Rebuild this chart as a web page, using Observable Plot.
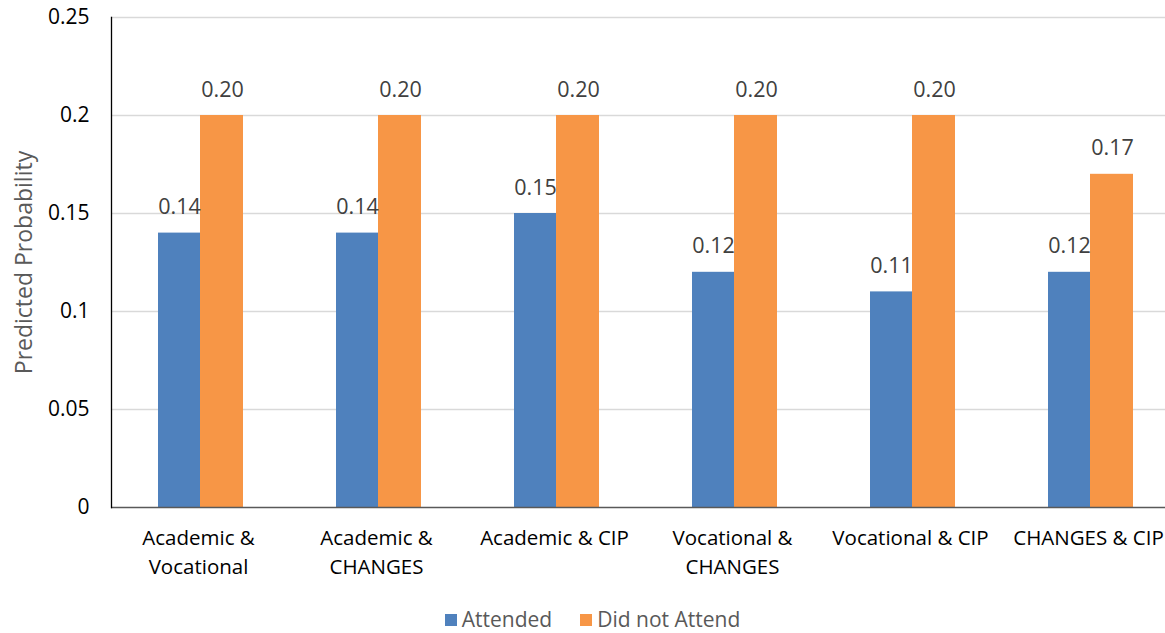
<!DOCTYPE html>
<html>
<head>
<meta charset="utf-8">
<script src="https://cdn.jsdelivr.net/npm/d3@7"></script>
<script src="https://cdn.jsdelivr.net/npm/@observablehq/plot@0.6"></script>
<style>
  html, body { margin: 0; padding: 0; background: #fff; }
  #chart { width: 1165px; height: 633px; overflow: hidden; position: relative; font-family: "Open Sans", Lato, sans-serif; }
  .legend { position: absolute; top: 605px; left: 0; width: 1165px; display: flex; justify-content: center; gap: 28px; font-size: 21px; line-height: 29px; color: #595959; padding-left: 20px; box-sizing: border-box; }
  .legend span.item { display: inline-flex; align-items: center; gap: 5px; }
  .legend span.sw { width: 12px; height: 12px; display: inline-block; }
</style>
</head>
<body>
<div id="chart"></div>
<script>
const categories = ["Academic &\nVocational", "Academic &\nCHANGES", "Academic & CIP", "Vocational &\nCHANGES", "Vocational & CIP", "CHANGES & CIP"];
const attended = [0.14, 0.14, 0.15, 0.12, 0.11, 0.12];
const notAttended = [0.20, 0.20, 0.20, 0.20, 0.20, 0.17];
const seriesNames = ["Attended", "Did not Attend"];
const seriesColors = ["#4F81BD", "#F79646"];
const yTicks = [0, 0.05, 0.1, 0.15, 0.2, 0.25];
const yTitle = "Predicted Probability";

const rows = [];
categories.forEach((c, i) => {
  rows.push({cat: c, series: seriesNames[0], value: attended[i]});
  rows.push({cat: c, series: seriesNames[1], value: notAttended[i]});
});
const A = rows.filter(d => d.series === seriesNames[0]);
const B = rows.filter(d => d.series === seriesNames[1]);

const font = "'Open Sans', Lato, sans-serif";
const plot = Plot.plot({
  width: 1165,
  height: 590,
  marginTop: 17,
  marginBottom: 83,
  marginLeft: 111,
  marginRight: 0,
  style: {fontFamily: font, fontSize: "21px", color: "#000", background: "#fff"},
  x: {domain: categories, range: [111, 1179], padding: 0, axis: null},
  y: {domain: [0, 0.25], ticks: yTicks, tickFormat: d3.format("~g"), label: null},
  color: {domain: seriesNames, range: seriesColors},
  marks: [
    Plot.ruleY(yTicks.slice(1), {stroke: "#d9d9d9", strokeWidth: 1.3}),
    Plot.axisY({ticks: yTicks, tickSize: 0, tickPadding: 22, fontSize: 21, label: null, tickFormat: d3.format("~g")}),
    Plot.barY(A, {x: "cat", y: "value", fill: "series", insetLeft: 47, insetRight: 89}),
    Plot.barY(B, {x: "cat", y: "value", fill: "series", insetLeft: 89, insetRight: 46}),
    Plot.text(A, {x: "cat", y: "value", text: d => d.value.toFixed(2), dx: -21, dy: -19, lineAnchor: "bottom", fill: "#404040", fontSize: 21.5}),
    Plot.text(B, {x: "cat", y: "value", text: d => d.value.toFixed(2), dx: 22, dy: -19, lineAnchor: "bottom", fill: "#404040", fontSize: 21.5}),
    Plot.ruleY([0], {stroke: "#595959", strokeWidth: 1.3}),
    Plot.frame({anchor: "left", stroke: "#000", strokeWidth: 1.3}),
    Plot.text(categories, {x: d => d, y: 0, text: d => d, dy: 16, dx: -2, lineAnchor: "top", lineHeight: 1.45, fill: "#000", fontSize: 20.5}),
    Plot.text([yTitle], {frameAnchor: "left", text: d => d, rotate: -90, textAnchor: "middle", dx: -87, fill: "#595959", fontSize: 23})
  ]
});
document.getElementById("chart").appendChild(plot);

const legend = document.createElement("div");
legend.className = "legend";
seriesNames.forEach((s, i) => {
  const item = document.createElement("span");
  item.className = "item";
  const sw = document.createElement("span");
  sw.className = "sw";
  sw.style.background = seriesColors[i];
  item.appendChild(sw);
  item.appendChild(document.createTextNode(s));
  legend.appendChild(item);
});
document.getElementById("chart").appendChild(legend);
</script>
</body>
</html>
